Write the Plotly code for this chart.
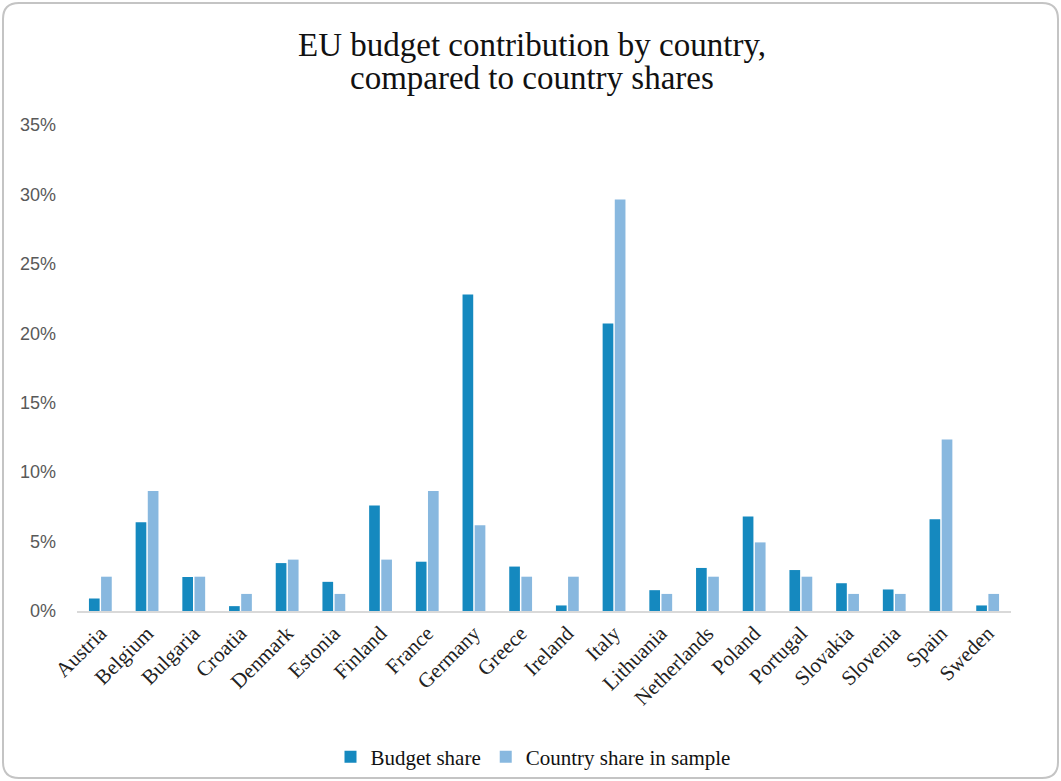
import plotly.graph_objects as go

countries = ["Austria", "Belgium", "Bulgaria", "Croatia", "Denmark", "Estonia", "Finland",
             "France", "Germany", "Greece", "Ireland", "Italy", "Lithuania", "Netherlands",
             "Poland", "Portugal", "Slovakia", "Slovenia", "Spain", "Sweden"]
budget_share = [0.9, 6.4, 2.45, 0.35, 3.45, 2.1, 7.6, 3.55, 22.8, 3.2, 0.4, 20.7, 1.5, 3.1,
                6.8, 2.95, 2.0, 1.55, 6.6, 0.4]
country_share = [2.47, 8.64, 2.47, 1.23, 3.7, 1.23, 3.7, 8.64, 6.17, 2.47, 2.47, 29.63, 1.23,
                 2.47, 4.94, 2.47, 1.23, 1.23, 12.35, 1.23]
y_ticks = [0, 5, 10, 15, 20, 25, 30, 35]
y_tick_text = [f"{v}%" for v in y_ticks]
title_lines = ["EU budget contribution by country,", "compared to country shares"]

W, H = 1061, 781
L, R, T, B = 77, 50, 125, 170
pw, ph = W - L - R, H - T - B

def px(x):
    return (x - L) / pw

def py(y):
    return (H - B - y) / ph

fig = go.Figure()
fig.add_trace(go.Bar(x=countries, y=budget_share, name="Budget share",
                     marker=dict(color="#1589bf", line=dict(width=0))))
fig.add_trace(go.Bar(x=countries, y=country_share, name="Country share in sample",
                     marker=dict(color="#88b8df", line=dict(width=0))))

# rounded border around whole figure
x0, x1, y0, y1, r = 3, 1058, 3, 778, 16
path = (f"M {px(x0 + r)},{py(y0)} L {px(x1 - r)},{py(y0)} Q {px(x1)},{py(y0)} {px(x1)},{py(y0 + r)} "
        f"L {px(x1)},{py(y1 - r)} Q {px(x1)},{py(y1)} {px(x1 - r)},{py(y1)} "
        f"L {px(x0 + r)},{py(y1)} Q {px(x0)},{py(y1)} {px(x0)},{py(y1 - r)} "
        f"L {px(x0)},{py(y0 + r)} Q {px(x0)},{py(y0)} {px(x0 + r)},{py(y0)} Z")
fig.add_shape(type="path", path=path, xref="paper", yref="paper",
              line=dict(color="#c4c4c4", width=2), layer="below")

# two-line title
for txt, yc in zip(title_lines, [45, 78]):
    fig.add_annotation(text=txt, x=px(532), y=py(yc), xref="paper", yref="paper",
                       xanchor="center", yanchor="middle", showarrow=False,
                       font=dict(family="Liberation Serif", size=33, color="#111111"))

fig.update_layout(
    width=W, height=H, autosize=False,
    margin=dict(l=L, r=R, t=T, b=B),
    paper_bgcolor="white", plot_bgcolor="white",
    barmode="group", bargap=0.48, bargroupgap=0.12,
    showlegend=True,
    legend=dict(orientation="h", x=533 / W, xanchor="center", xref="container",
                y=1 - 757 / H, yanchor="middle", yref="container",
                font=dict(family="Liberation Serif", size=21, color="#111111"),
                itemwidth=30, traceorder="normal", bgcolor="rgba(0,0,0,0)"),
    xaxis=dict(tickangle=-45, tickfont=dict(family="Liberation Serif", size=21, color="#222222"),
               showline=True, linecolor="#d9d9d9", linewidth=1.5, showgrid=False,
               ticks="", fixedrange=True, automargin=False),
    yaxis=dict(range=[0, 35], tickvals=y_ticks, ticktext=y_tick_text, showgrid=False,
               zeroline=False, showline=False, automargin=False,
               tickfont=dict(family="Liberation Sans", size=18, color="#595959"),
               ticklabelstandoff=20),
)

fig.write_html("out.html", config={"displayModeBar": False, "responsive": False},
               default_width="1061px", default_height="781px",
               post_script="document.body.style.margin='0';document.documentElement.style.overflow='hidden';")
